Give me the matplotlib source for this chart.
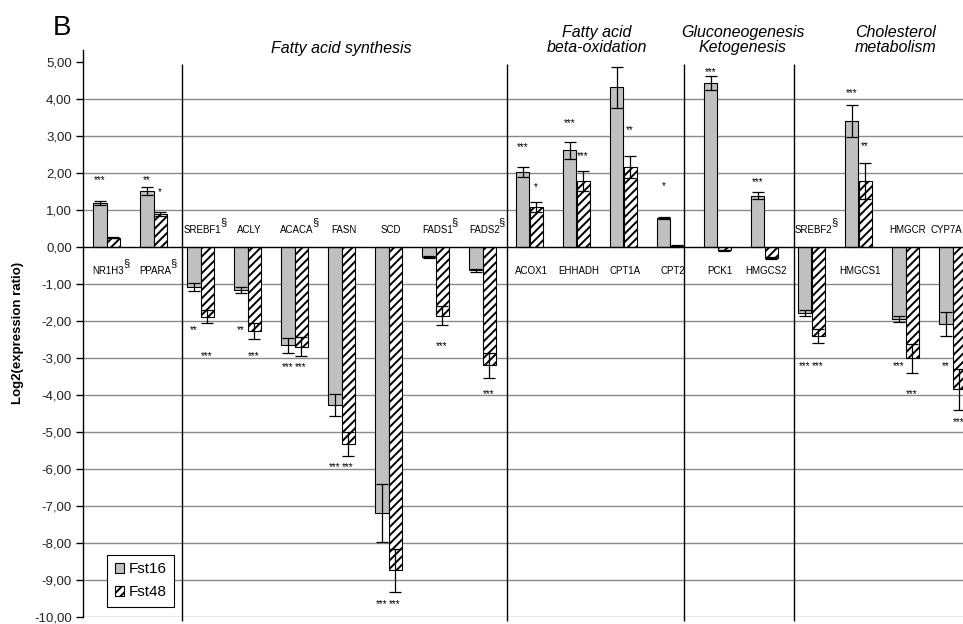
import matplotlib
matplotlib.use('Agg')
import matplotlib.pyplot as plt
import numpy as np
from matplotlib.patches import Patch

plt.rcParams['font.family'] = ['Liberation Sans', 'DejaVu Sans']
plt.rcParams['hatch.linewidth'] = 1.4

# data
genes = ['NR1H3', 'PPARA', 'SREBF1', 'ACLY', 'ACACA', 'FASN', 'SCD', 'FADS1', 'FADS2',
         'ACOX1', 'EHHADH', 'CPT1A', 'CPT2', 'PCK1', 'HMGCS2',
         'SREBF2', 'HMGCS1', 'HMGCR', 'CYP7A']
fst16 = [1.19, 1.52, -1.08, -1.16, -2.65, -4.27, -7.19, -0.27, -0.63,
         2.03, 2.62, 4.32, 0.79, 4.44, 1.39, -1.77, 3.40, -1.94, -2.08]
err16 = [0.05, 0.11, 0.10, 0.08, 0.20, 0.30, 0.79, 0.02, 0.03,
         0.14, 0.23, 0.55, 0.02, 0.20, 0.10, 0.08, 0.43, 0.08, 0.32]
fst48 = [0.26, 0.89, -1.88, -2.27, -2.69, -5.33, -8.74, -1.85, -3.19,
         1.08, 1.78, 2.17, 0.04, -0.09, -0.30, -2.40, 1.78, -3.01, -3.84]
err48 = [0.01, 0.05, 0.18, 0.22, 0.25, 0.33, 0.58, 0.25, 0.34,
         0.14, 0.27, 0.30, 0.01, 0.02, 0.02, 0.20, 0.49, 0.39, 0.55]
stars16 = ['***', '**', '**', '**', '***', '***', '***', '', '',
           '***', '***', '', '*', '***', '***', '***', '***', '***', '**']
stars48 = ['', '*', '***', '***', '***', '***', '***', '***', '***',
           '*', '***', '**', '', '', '', '***', '**', '***', '***']
section = ['NR1H3', 'PPARA', 'SREBF1', 'ACACA', 'FADS1', 'FADS2', 'SREBF2']
groups = ['Fatty acid synthesis', 'Fatty acid\nbeta-oxidation',
          'Gluconeogenesis\nKetogenesis', 'Cholesterol\nmetabolism']

# where the significance marks sit (data units)
star_y16 = [1.87, 1.87, -2.19, -2.19, -3.2, -5.9, -9.61, 0, 0,
            2.75, 3.4, 0, 1.69, 4.78, 1.82, -3.16, 4.21, -3.16, -3.16]
star_y48 = [0, 1.55, -2.89, -2.89, -3.2, -5.9, -9.61, -2.62, -3.93,
            1.68, 2.5, 3.22, 0, 0, 0, -3.16, 2.77, -3.93, -4.68]
seps = [1.606, 8.52, 12.29, 14.63]
group_x = [4.99, 10.44, 13.54, 16.78]
group_y = [5.37, 5.6, 5.6, 5.6]

fig = plt.figure(figsize=(9.63, 6.24), dpi=100)
ax = fig.add_axes([83 / 963, 7 / 624, 893 / 963, 567 / 624])

x = np.arange(len(genes))
w = 0.28
ax.bar(x - w / 2, fst16, w, color='#c0c0c0', edgecolor='black', linewidth=0.8, zorder=3)
ax.bar(x + w / 2, fst48, w, color='white', edgecolor='black', hatch='////',
       linewidth=0.8, zorder=3)
ax.errorbar(x - w / 2, fst16, yerr=err16, fmt='none', ecolor='black',
            elinewidth=0.9, capsize=4, capthick=0.9, zorder=4)
ax.errorbar(x + w / 2, fst48, yerr=err48, fmt='none', ecolor='black',
            elinewidth=0.9, capsize=4, capthick=0.9, zorder=4)

# grid lines, no line at 5
for t in range(-10, 5):
    if t == 0:
        ax.axhline(0, color='black', lw=1, zorder=5)
    else:
        ax.axhline(t, color='#8a8a8a', lw=1, zorder=1)

ax.vlines(seps, -10.1, 4.96, color='black', lw=1, zorder=2, clip_on=False)

ax.set_xlim(-0.5, 18.5)
ax.set_ylim(-10, 5.33)
ticks = list(range(-10, 6))
ax.set_yticks(ticks)
ax.set_yticklabels([('%.2f' % t).replace('.', ',') for t in ticks], fontsize=9.5, color='#222222')
ax.tick_params(axis='y', direction='out', length=5, width=1, pad=3)
ax.set_xticks([])
for s in ['top', 'right', 'bottom']:
    ax.spines[s].set_visible(False)
ax.spines['left'].set_linewidth(1)

# gene labels and section marks
for i, g in enumerate(genes):
    ly = 0.45 if fst16[i] < 0 else -0.65
    lx = i - 0.12 if i == len(genes) - 1 else i + 0.04
    t = ax.text(lx, ly, g, ha='center', va='center', fontsize=7, zorder=6)
    if g in section:
        ax.annotate('§', xy=(1.0, 1.3), xycoords=t, xytext=(1.5, 0),
                    textcoords='offset points', ha='center', va='center', fontsize=8)

# significance stars
for i in range(len(genes)):
    if stars16[i]:
        ax.annotate(stars16[i], xy=(i - w / 2, star_y16[i]), xytext=(0, -3.5),
                    textcoords='offset points', ha='center', va='baseline', fontsize=7)
    if stars48[i]:
        ax.annotate(stars48[i], xy=(i + w / 2, star_y48[i]), xytext=(0, -3.5),
                    textcoords='offset points', ha='center', va='baseline', fontsize=7)

for gx, gy, name in zip(group_x, group_y, groups):
    ax.text(gx, gy, name, ha='center', va='center', fontsize=11.5, style='italic',
            linespacing=1.05, clip_on=False)

fig.text(62 / 963, 1 - 28 / 624, 'B', fontsize=20, ha='center', va='center')
fig.text(18 / 963, 1 - 333 / 624, 'Log2(expression ratio)', rotation=90,
         fontweight='bold', fontsize=9.5, ha='center', va='center')

handles = [Patch(facecolor='#c0c0c0', edgecolor='black', lw=0.8, label='Fst16'),
           Patch(facecolor='white', edgecolor='black', hatch='////', lw=0.8, label='Fst48')]
leg = ax.legend(handles=handles, loc='lower left', bbox_to_anchor=(0.027, 0.0176),
                borderaxespad=0, fontsize=11, handlelength=0.6, handleheight=0.6,
                handletextpad=0.3, fancybox=False, framealpha=1, edgecolor='black',
                borderpad=0.5, labelspacing=0.6)
leg.get_frame().set_linewidth(0.8)
leg.set_zorder(7)

fig.savefig('out.png', dpi=100)
